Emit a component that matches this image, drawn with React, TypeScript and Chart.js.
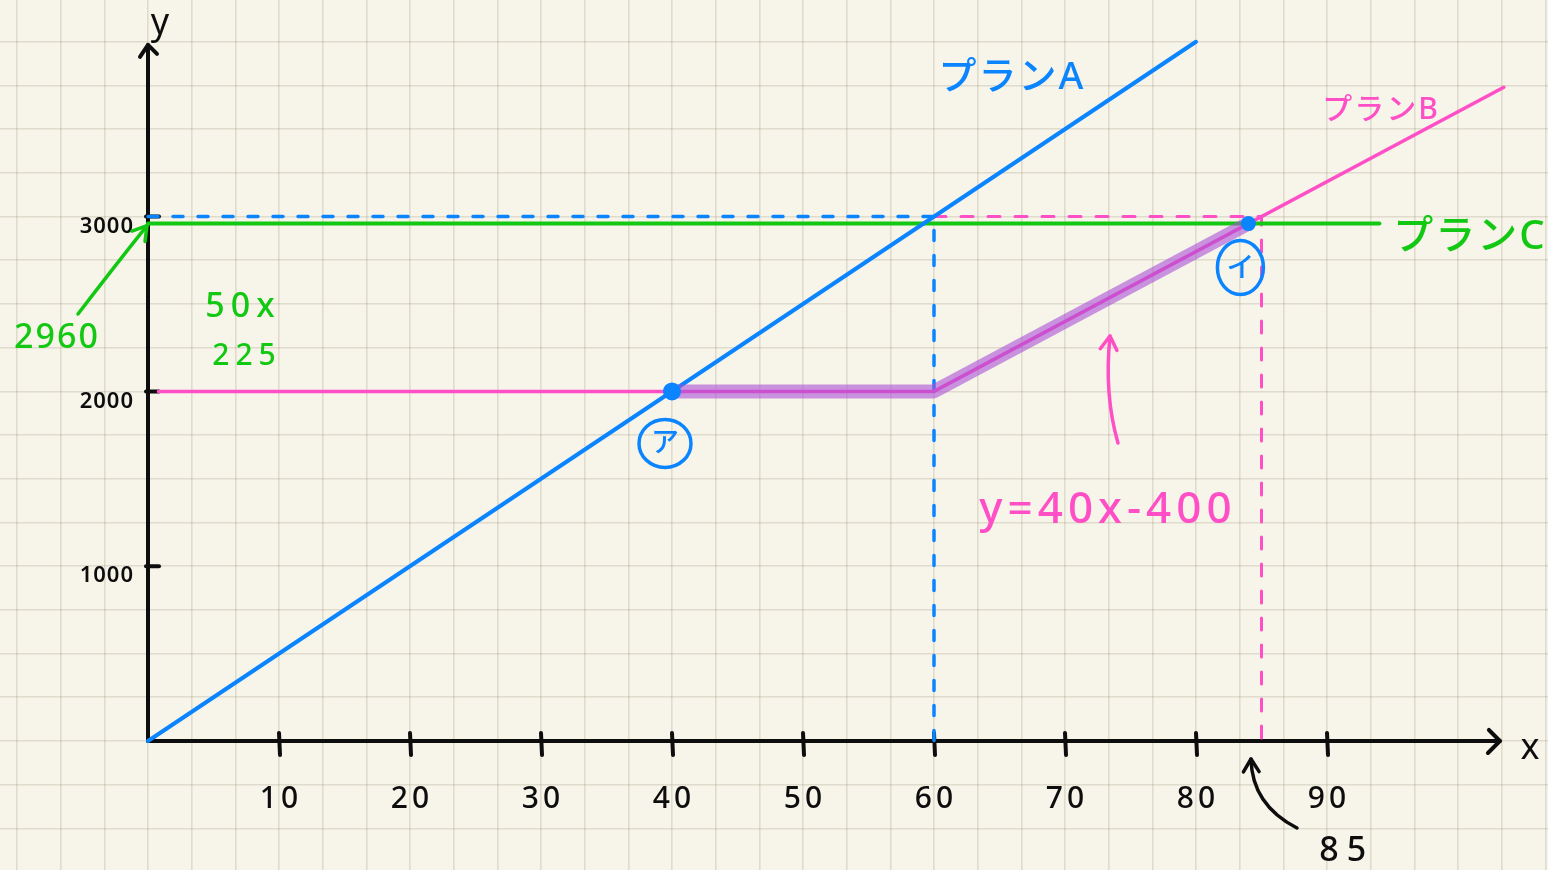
import React, { useEffect, useRef } from "react";
import { Chart, registerables } from "chart.js";

Chart.register(...registerables);

// Plan lines (x: usage, y: cost)
const planA = [
  { x: 0, y: 0 },
  { x: 80, y: 4000 },
];
const planB = [
  { x: 0.8, y: 2000 },
  { x: 60, y: 2000 },
  { x: 103.5, y: 3740 },
];
const planC = [
  { x: 0, y: 2960 },
  { x: 94, y: 2960 },
];
// Cheapest stretch of plan B
const cheapest = [
  { x: 40, y: 2000 },
  { x: 60, y: 2000 },
  { x: 84, y: 2960 },
];
// Reading guides
const guideA = [
  { x: 0, y: 3000 },
  { x: 60, y: 3000 },
  { x: 60, y: 0 },
];
const guideB = [
  { x: 60, y: 3000 },
  { x: 85, y: 3000 },
  { x: 85, y: 0 },
];
// Crossing points
const marks = [
  { x: 40, y: 2000 },
  { x: 84, y: 2960 },
];
const markNames = ["ア", "イ"];

const xTicks = [10, 20, 30, 40, 50, 60, 70, 80, 90];
const yTicks = [1000, 2000, 3000];
const planNames = ["プランA", "プランB", "プランC"];
const noteC = "2960";
const noteWork = ["50x", "225"];
const formulaB = "y=40x-400";
const noteCross = "85";

const X_MIN = -11.298;
const X_MAX = 106.87;
const Y_MIN = -738;
const Y_MAX = 4239;
const X_GRID = 10 / 3;
const Y_GRID = 250;

const BLUE = "#0a84ff";
const PINK = "#ff4fc6";
const GREEN = "#12c812";
const INK = "#0d0d0d";
const PAPER = "#f7f5e9";
const FONT = '"Noto Sans", "Noto Sans CJK JP", sans-serif';

function gridTicks(min: number, max: number, step: number) {
  const out: { value: number }[] = [];
  for (let v = Math.ceil(min / step) * step; v <= max + 1e-6; v += step) {
    out.push({ value: v });
  }
  return out;
}

function arrow(
  ctx: CanvasRenderingContext2D,
  from: [number, number],
  ctrl: [number, number],
  to: [number, number],
  color: string,
  width: number,
  head: number
) {
  ctx.save();
  ctx.strokeStyle = color;
  ctx.lineWidth = width;
  ctx.lineCap = "round";
  ctx.lineJoin = "round";
  ctx.beginPath();
  ctx.moveTo(from[0], from[1]);
  ctx.quadraticCurveTo(ctrl[0], ctrl[1], to[0], to[1]);
  ctx.stroke();
  const ang = Math.atan2(to[1] - ctrl[1], to[0] - ctrl[0]);
  ctx.beginPath();
  ctx.moveTo(to[0] - head * Math.cos(ang - 0.55), to[1] - head * Math.sin(ang - 0.55));
  ctx.lineTo(to[0], to[1]);
  ctx.lineTo(to[0] - head * Math.cos(ang + 0.55), to[1] - head * Math.sin(ang + 0.55));
  ctx.stroke();
  ctx.restore();
}

const paperPlugin = {
  id: "paper",
  beforeDraw(chart: any) {
    const { ctx, width, height } = chart;
    ctx.save();
    ctx.fillStyle = PAPER;
    ctx.fillRect(0, 0, width, height);
    ctx.restore();
  },
};

const axesPlugin = {
  id: "handAxes",
  beforeDatasetsDraw(chart: any) {
    const { ctx } = chart;
    const sx = chart.scales.x;
    const sy = chart.scales.y;
    const ox = sx.getPixelForValue(0);
    const oy = sy.getPixelForValue(0);
    const topY = sy.getPixelForValue(3982);
    const rightX = sx.getPixelForValue(103.2);
    ctx.save();
    ctx.strokeStyle = INK;
    ctx.lineWidth = 4;
    ctx.lineCap = "round";
    ctx.lineJoin = "round";
    // y axis with arrow
    ctx.beginPath();
    ctx.moveTo(ox, oy);
    ctx.lineTo(ox, topY);
    ctx.stroke();
    ctx.beginPath();
    ctx.moveTo(ox - 8, topY + 12);
    ctx.lineTo(ox, topY);
    ctx.lineTo(ox + 9, topY + 9);
    ctx.stroke();
    // x axis with arrow
    ctx.beginPath();
    ctx.moveTo(ox, oy);
    ctx.lineTo(rightX, oy);
    ctx.stroke();
    ctx.beginPath();
    ctx.moveTo(rightX - 11, oy - 11);
    ctx.lineTo(rightX, oy);
    ctx.lineTo(rightX - 12, oy + 12);
    ctx.stroke();
    // ticks
    xTicks.forEach((t) => {
      const p = sx.getPixelForValue(t);
      ctx.beginPath();
      ctx.moveTo(p, oy - 8);
      ctx.lineTo(p + 1, oy + 14);
      ctx.stroke();
    });
    yTicks.forEach((t) => {
      const p = sy.getPixelForValue(t);
      ctx.beginPath();
      ctx.moveTo(ox - 2, p);
      ctx.lineTo(ox + 11, p);
      ctx.stroke();
    });
    ctx.restore();
  },
};

const notesPlugin = {
  id: "handNotes",
  afterDatasetsDraw(chart: any) {
    const { ctx } = chart;
    const sx = chart.scales.x;
    const sy = chart.scales.y;
    const ox = sx.getPixelForValue(0);
    const oy = sy.getPixelForValue(0);
    ctx.save();
    ctx.textAlign = "center";
    ctx.textBaseline = "middle";

    // axis names
    ctx.fillStyle = INK;
    ctx.font = `36px ${FONT}`;
    ctx.fillText("y", ox + 12, 24);
    ctx.fillText("x", sx.getPixelForValue(105.5), oy + 8);

    // tick labels
    ctx.font = `500 30px ${FONT}`;
    (ctx as any).letterSpacing = "4px";
    xTicks.forEach((t) => {
      ctx.fillText(String(t), sx.getPixelForValue(t) + 2, oy + 58);
    });
    ctx.textAlign = "right";
    ctx.font = `600 22px ${FONT}`;
    (ctx as any).letterSpacing = "1px";
    yTicks.forEach((t) => {
      ctx.fillText(String(t), ox - 14, sy.getPixelForValue(t) + 10);
    });

    // 85 note
    ctx.textAlign = "center";
    ctx.font = `500 34px ${FONT}`;
    (ctx as any).letterSpacing = "8px";
    ctx.fillText(noteCross, sx.getPixelForValue(91.5), oy + 110);
    arrow(ctx, [1297, 828], [1252, 805], [1251, oy + 18], INK, 3.5, 15);

    // green notes
    ctx.fillStyle = GREEN;
    ctx.font = `500 34px ${FONT}`;
    (ctx as any).letterSpacing = "2px";
    ctx.fillText(noteC, 57, 338);
    arrow(ctx, [78, 314], [110, 272], [ox - 1, sy.getPixelForValue(2960) + 2], GREEN, 3.5, 16);
    (ctx as any).letterSpacing = "6px";
    ctx.fillText(noteWork[0], 243, 307);
    ctx.font = `500 30px ${FONT}`;
    ctx.fillText(noteWork[1], 247, 356);

    // plan names
    (ctx as any).letterSpacing = "2px";
    ctx.fillStyle = BLUE;
    ctx.font = `500 38px ${FONT}`;
    ctx.fillText(planNames[0], 1012, 78);
    ctx.fillStyle = PINK;
    ctx.font = `500 30px ${FONT}`;
    ctx.fillText(planNames[1], 1381, 110);
    ctx.fillStyle = GREEN;
    ctx.font = `500 40px ${FONT}`;
    ctx.fillText(planNames[2], 1470, 238);

    // formula of plan B past 60
    ctx.fillStyle = PINK;
    ctx.font = `500 44px ${FONT}`;
    (ctx as any).letterSpacing = "5px";
    ctx.fillText(formulaB, 1108, 510);
    arrow(ctx, [1118, 443], [1104, 395], [1110, 336], PINK, 3.5, 16);

    // circled point names
    (ctx as any).letterSpacing = "0px";
    ctx.strokeStyle = BLUE;
    ctx.fillStyle = BLUE;
    ctx.lineWidth = 3.5;
    const offsets = [
      { dx: -7, dy: 52, rx: 26, ry: 24 },
      { dx: -8, dy: 44, rx: 23, ry: 27 },
    ];
    marks.forEach((m, i) => {
      const cx = sx.getPixelForValue(m.x) + offsets[i].dx;
      const cy = sy.getPixelForValue(m.y) + offsets[i].dy;
      ctx.beginPath();
      ctx.ellipse(cx, cy, offsets[i].rx, offsets[i].ry, 0, 0, Math.PI * 2);
      ctx.stroke();
      ctx.font = `500 28px ${FONT}`;
      ctx.fillText(markNames[i], cx, cy + 1);
    });
    ctx.restore();
  },
};

export default function App() {
  const ref = useRef<HTMLCanvasElement | null>(null);

  useEffect(() => {
    if (!ref.current) return;
    const line = (data: any[], color: string, width: number, extra: any = {}) => ({
      data,
      showLine: true,
      borderColor: color,
      borderWidth: width,
      pointRadius: 0,
      pointHoverRadius: 0,
      fill: false,
      tension: 0,
      borderCapStyle: "round",
      borderJoinStyle: "round",
      ...extra,
    });
    const sets: any[] = [
      line(guideA, BLUE, 3.5, { borderDash: [10, 15] }),
      line(guideB, PINK, 3, { borderDash: [12, 15] }),
      line(planC, GREEN, 4),
      line(planA, BLUE, 4),
      line(planB, PINK, 3.5),
      line(cheapest, "rgba(170, 80, 215, 0.6)", 14, { borderCapStyle: "round" }),
      {
        data: marks,
        showLine: false,
        pointRadius: [9, 7.5],
        pointBackgroundColor: BLUE,
        pointBorderWidth: 0,
      },
    ];
    sets.forEach((s, i) => (s.order = sets.length - i));

    const chart = new Chart(ref.current, {
      type: "scatter",
      data: { datasets: sets },
      options: {
        animation: false,
        responsive: true,
        maintainAspectRatio: false,
        layout: { padding: 0, autoPadding: false },
        events: [],
        plugins: {
          legend: { display: false },
          tooltip: { enabled: false },
          title: { display: false },
        },
        scales: {
          x: {
            type: "linear",
            min: X_MIN,
            max: X_MAX,
            afterBuildTicks: (s: any) => {
              s.ticks = gridTicks(X_MIN, X_MAX, X_GRID);
            },
            ticks: { display: false },
            border: { display: false },
            grid: { color: "rgba(120, 110, 80, 0.18)", lineWidth: 1.6, drawTicks: false },
          },
          y: {
            type: "linear",
            min: Y_MIN,
            max: Y_MAX,
            afterBuildTicks: (s: any) => {
              s.ticks = gridTicks(Y_MIN, Y_MAX, Y_GRID);
            },
            ticks: { display: false },
            border: { display: false },
            grid: { color: "rgba(120, 110, 80, 0.18)", lineWidth: 1.6, drawTicks: false },
          },
        },
      },
      plugins: [paperPlugin, axesPlugin, notesPlugin],
    });
    return () => chart.destroy();
  }, []);

  return (
    <div style={{ position: "fixed", left: 0, top: 0, width: 1548, height: 870, background: PAPER }}>
      <canvas ref={ref} />
    </div>
  );
}
